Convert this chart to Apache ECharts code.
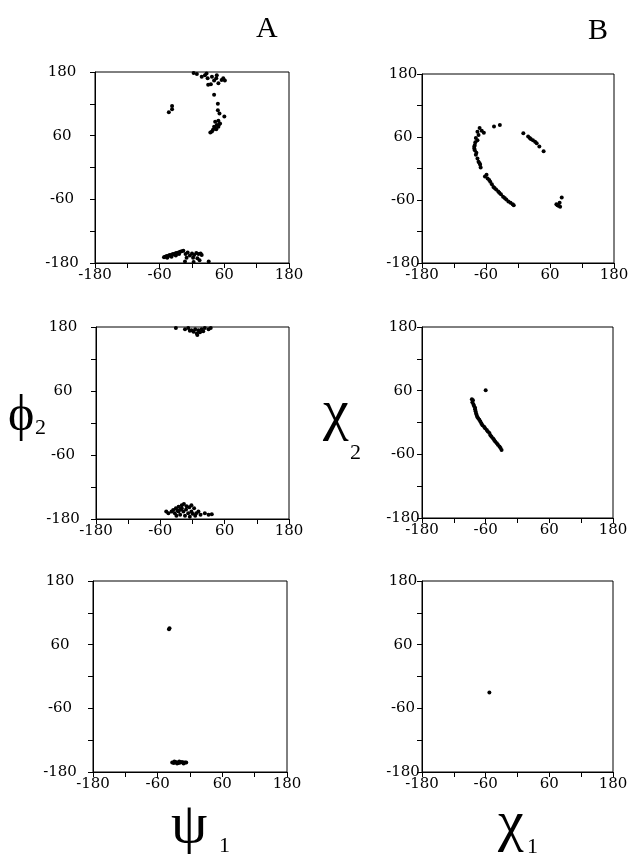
<!DOCTYPE html>
<html>
<head>
<meta charset="utf-8">
<script src="https://cdn.jsdelivr.net/npm/echarts@6/dist/echarts.min.js"></script>
<style>
  html, body { margin: 0; background: #fff; }
  #chart { width: 642px; height: 854px; }
</style>
</head>
<body>
<div id="chart"></div>
<script>
// labelled ticks on both axes (minor ticks every 60)
const tickLabels = [-180, -60, 60, 180];

// column A: psi1 (x) vs phi2 (y)
const a1 = [
  [3,178],[9,176],[18,171],[24,174],[27,177],[29,168],[37,171],[46,174],[41,164],
  [30,156],[35,157],[49,159],[55,165],[58,168],[61,164],[45,168],
  [41,137],[48,120],[48,108],[51,102],[60,96],
  [43,86],[49,88],[52,83],[46,80],[41,77],[49,77],[39,71],[45,72],[34,66],[37,68],[51,82],[43,74],
  [-43,104],[-37,116],[-37,110],
  [-52,-169],[-50,-168],[-47,-167],[-45,-168],[-43,-166],[-41,-165],[-39,-166],[-37,-164],
  [-35,-163],[-33,-164],[-31,-162],[-29,-161],[-27,-162],[-25,-160],[-22,-159],[-19,-158],
  [-16,-157],[-46,-170],[-38,-168],[-30,-166],[-24,-163],
  [-12,-163],[-8,-160],[-4,-166],[0,-162],[4,-165],[8,-161],[12,-163],[16,-162],[18,-165],
  [-10,-170],[2,-170],[10,-171],[-13,-177],[3,-178],[14,-175],[31,-177]
];
const a2 = [
  [-31,178],[-14,176],[-8,178],[-2,174],[5,176],[11,174],[17,176],[23,178],[30,176],[34,178],
  [8,168],[14,170],[9,165],[2,171],[-5,173],[20,172],
  [-49,-166],[-45,-169],[-36,-163],[-31,-160],[-26,-157],[-20,-154],[-16,-152],[-11,-156],
  [-6,-158],[-2,-154],[3,-160],[-33,-169],[-26,-166],[-22,-162],[-17,-166],[-12,-162],
  [-8,-169],[-2,-166],[7,-169],[11,-166],[15,-172],[23,-169],[30,-172],[36,-171],
  [-23,-172],[-14,-174],[-5,-176],[5,-174],[-30,-174],[-39,-166],[-20,-160],[-28,-164],[0,-170]
];
const a3 = [
  [-39,89],[-38,91],
  [-33,-162],[-30,-163],[-27,-161],[-24,-162],[-21,-163],[-18,-162],[-15,-161],[-12,-162],
  [-9,-162],[-7,-162],[-29,-160],[-20,-160],[-12,-164],[-24,-164]
];

// column B: chi1 (x) vs chi2 (y)
const b1 = [
  [-72,77],[-76,70],[-68,72],[-64,68],[-74,64],[-79,58],[-76,54],[-81,45],[-82,38],[-81,35],
  [-79,26],[-76,19],[-74,13],[-71,7],[-70,2],[-59,-12],[-57,-19],[-52,-25],[-49,-30],
  [-46,-35],[-41,-40],[-37,-44],[-32,-49],[-28,-54],[-22,-59],[-18,-63],[-10,-68],[-8,-70],
  [-80,50],[-82,42],[-78,30],[-72,10],[-62,-15],[-54,-22],[-44,-37],[-35,-46],[-25,-56],[-14,-65],
  [-45,80],[-34,83],
  [10,67],[19,61],[22,58],[24,56],[28,54],[32,51],[35,48],[40,42],[48,33],
  [72,-68],[76,-71],[79,-73],[82,-55],[78,-65],[74,-70]
];
const b2 = [
  [-60,61],
  [-86,44],[-85,38],[-82,31],[-80,25],[-78,17],[-76,11],[-72,5],[-68,-2],[-63,-8],[-58,-14],
  [-53,-20],[-49,-27],[-44,-33],[-39,-39],[-34,-45],[-30,-52],
  [-84,42],[-83,34],[-80,28],[-79,21],[-77,14],[-74,8],[-70,2],[-66,-5],[-61,-11],[-56,-17],
  [-51,-24],[-46,-30],[-42,-36],[-37,-42],[-32,-48]
];
const b3 = [
  [-53,-30]
];

const boxes = [
  { data: a1, left: 95, top: 72, width: 194, height: 191, gap: 33 },
  { data: b1, left: 422, top: 74, width: 192, height: 189, gap: 19 },
  { data: a2, left: 96, top: 327, width: 193, height: 192, gap: 33 },
  { data: b2, left: 422, top: 327, width: 191, height: 191, gap: 19 },
  { data: a3, left: 93, top: 581, width: 194, height: 191, gap: 33 },
  { data: b3, left: 422, top: 581, width: 191, height: 191, gap: 19 }
];

const tickFont = { fontFamily: 'DejaVu Serif', fontSize: 15, color: '#000' };
const fmt = v => (tickLabels.includes(v) ? String(v) : '');

function axis(gridIndex, isY, gap) {
  return {
    type: 'value', gridIndex: gridIndex,
    min: -180, max: 180, interval: 60,
    axisLine: { show: true, onZero: false, lineStyle: { color: '#000', width: 1 } },
    axisTick: { show: true, length: 5, lineStyle: { color: '#000' } },
    splitLine: { show: false },
    axisLabel: Object.assign({
      formatter: fmt,
      margin: isY ? gap : 5,
      align: 'center',
      showMinLabel: true, showMaxLabel: true
    }, tickFont)
  };
}

// big symbol labels (text + size)
function label(text, x, y, size) {
  return {
    type: 'text', left: x, top: y,
    style: { text: text, fontFamily: 'Liberation Serif', fontSize: size, fill: '#000' }
  };
}

const chart = echarts.init(document.getElementById('chart'));

chart.setOption({
  backgroundColor: '#fff',
  animation: false,
  grid: boxes.map(b => ({
    left: b.left, top: b.top, width: b.width, height: b.height,
    show: true, borderColor: '#000', borderWidth: 1
  })),
  xAxis: boxes.map((b, i) => axis(i, false)),
  yAxis: boxes.map((b, i) => axis(i, true, b.gap)),
  series: boxes.map((b, i) => ({
    type: 'scatter', xAxisIndex: i, yAxisIndex: i,
    data: b.data, symbolSize: 4,
    itemStyle: { color: '#000', opacity: 1 }
  })),
  graphic: [
    label('A', 256, 14, 30),
    label('B', 588, 16, 30),
    label('ϕ', 8, 392, 50),
    label('2', 35, 417, 22),
    label('χ', 323, 385, 58),
    label('2', 350, 442, 22),
    label('ψ', 171, 798, 58),
    label('1', 219, 835, 22),
    label('χ', 498, 796, 58),
    label('1', 527, 836, 22)
  ]
});
</script>
</body>
</html>
